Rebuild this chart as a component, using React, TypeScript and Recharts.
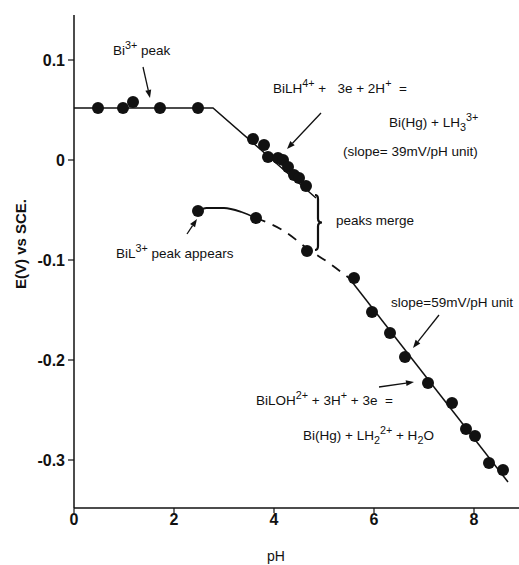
import React from 'react';
import { ComposedChart, Line, Scatter, XAxis, YAxis, ReferenceDot, ReferenceLine } from 'recharts';

const FONT = '"Liberation Sans", Arial, sans-serif';
const INK = '#111';

// measured points (pH, E vs SCE in volts)
const plateauPH = [0.48, 0.98, 1.18, 1.72, 2.48];
const plateauE = [0.052, 0.052, 0.058, 0.052, 0.052];
const slope39PH = [3.58, 3.8, 3.88, 4.08, 4.18, 4.28, 4.4, 4.5, 4.64];
const slope39E = [0.021, 0.015, 0.003, 0.002, 0.0, -0.007, -0.015, -0.018, -0.026];
const bilPH = [2.48, 3.64, 4.66];
const bilE = [-0.051, -0.058, -0.091];
const slope59PH = [5.6, 5.96, 6.32, 6.62, 7.08, 7.56, 7.84, 8.02, 8.3, 8.58];
const slope59E = [-0.118, -0.152, -0.173, -0.197, -0.223, -0.243, -0.269, -0.276, -0.303, -0.31];

// hand-drawn curves through the points
const upperFitPH = [0, 2.78, 4.84];
const upperFitE = [0.052, 0.052, -0.038];
const bilCurvePH = [2.48, 2.65, 3.0, 3.35, 3.64];
const bilCurveE = [-0.051, -0.048, -0.048, -0.052, -0.058];
const mergePH = [3.64, 4.2, 4.68, 5.1, 5.5];
const mergeE = [-0.058, -0.071, -0.089, -0.103, -0.118];
const lowerFitPH = [5.5, 8.68];
const lowerFitE = [-0.118, -0.322];

const xTicks = [0, 2, 4, 6, 8];
const yTicks = [-0.3, -0.2, -0.1, 0, 0.1];

const zip = (xs: number[], ys: number[]) => xs.map((x, i) => ({ x, y: ys[i] }));

const points = [
  ...zip(plateauPH, plateauE),
  ...zip(slope39PH, slope39E),
  ...zip(bilPH, bilE),
  ...zip(slope59PH, slope59E),
];

type Part = { t: string; sup?: boolean; sub?: boolean };

function Rich({ x, y, parts, size = 13.5 }: { x: number; y: number; parts: Part[]; size?: number }) {
  let shift = 0;
  return (
    <text x={x} y={y} fontSize={size} fill={INK} fontFamily={FONT} style={{ whiteSpace: 'pre' }}>
      {parts.map((p, i) => {
        const target = p.sup ? -size * 0.45 : p.sub ? size * 0.3 : 0;
        const dy = target - shift;
        shift = target;
        return (
          <tspan key={i} dy={dy} fontSize={p.sup || p.sub ? size * 0.8 : size}>
            {p.t}
          </tspan>
        );
      })}
    </text>
  );
}

const Arrow = (p: any) => {
  const { x1, y1, x2, y2 } = p;
  const a = Math.atan2(y2 - y1, x2 - x1);
  const L = 8;
  const W = 3;
  const bx = x2 - L * Math.cos(a);
  const by = y2 - L * Math.sin(a);
  const pts = `${x2},${y2} ${bx - W * Math.sin(a)},${by + W * Math.cos(a)} ${bx + W * Math.sin(a)},${by - W * Math.cos(a)}`;
  return (
    <g>
      <line x1={x1} y1={y1} x2={bx} y2={by} stroke={INK} strokeWidth={1.3} />
      <polygon points={pts} fill={INK} />
    </g>
  );
};

const Brace = (p: any) => {
  const x = p.x1;
  const ya = Math.min(p.y1, p.y2);
  const yb = Math.max(p.y1, p.y2);
  const ym = (ya + yb) / 2;
  const d = `M${x - 3},${ya} Q${x},${ya} ${x},${ya + 4} L${x},${ym - 4} Q${x},${ym} ${x + 4},${ym} Q${x},${ym} ${x},${ym + 4} L${x},${yb - 4} Q${x},${yb} ${x - 3},${yb}`;
  return <path d={d} fill="none" stroke={INK} strokeWidth={2.2} />;
};

const note = (key: string, x: number, y: number, parts: Part[]) => (
  <ReferenceDot
    key={key}
    x={x}
    y={y}
    r={0}
    shape={(p: any) => <Rich x={p.cx} y={p.cy} parts={parts} />}
  />
);

const arrow = (key: string, from: [number, number], to: [number, number]) => (
  <ReferenceLine
    key={key}
    segment={[{ x: from[0], y: from[1] }, { x: to[0], y: to[1] }]}
    shape={Arrow}
  />
);

export default function App() {
  const tickStyle = { fontSize: 16, fontWeight: 'bold', fill: INK, fontFamily: FONT };

  return (
    <div style={{ position: 'absolute', left: 0, top: 0, width: 519, height: 565, background: '#fff' }}>
      <ComposedChart width={519} height={565} margin={{ top: 15, right: 0, bottom: 27, left: 14 }}>
        <XAxis
          dataKey="x"
          type="number"
          domain={[0, 8.9]}
          ticks={xTicks}
          allowDataOverflow
          height={30}
          tickSize={5}
          tickMargin={1}
          axisLine={{ stroke: INK, strokeWidth: 1.5 }}
          tickLine={{ stroke: INK, strokeWidth: 1.2 }}
          tick={tickStyle}
        />
        <YAxis
          type="number"
          domain={[-0.348, 0.145]}
          ticks={yTicks}
          allowDataOverflow
          width={60}
          tickSize={6}
          tickMargin={3}
          axisLine={{ stroke: INK, strokeWidth: 1.5 }}
          tickLine={{ stroke: INK, strokeWidth: 1.2 }}
          tick={tickStyle}
        />

        <Line data={zip(upperFitPH, upperFitE)} dataKey="y" type="linear" dot={false} stroke={INK} strokeWidth={1.5} isAnimationActive={false} />
        <Line data={zip(bilCurvePH, bilCurveE)} dataKey="y" type="monotone" dot={false} stroke={INK} strokeWidth={1.8} isAnimationActive={false} />
        <Line data={zip(mergePH, mergeE)} dataKey="y" type="monotone" dot={false} stroke={INK} strokeWidth={1.8} strokeDasharray="10 8" isAnimationActive={false} />
        <Line data={zip(lowerFitPH, lowerFitE)} dataKey="y" type="linear" dot={false} stroke={INK} strokeWidth={1.5} isAnimationActive={false} />

        <Scatter
          data={points}
          dataKey="y"
          isAnimationActive={false}
          shape={(p: any) => <circle cx={p.cx} cy={p.cy} r={6} fill={INK} />}
        />

        <ReferenceLine segment={[{ x: 4.88, y: -0.035 }, { x: 4.88, y: -0.09 }]} shape={Brace} />

        {arrow('a1', [1.38, 0.093], [1.52, 0.062])}
        {arrow('a2', [4.94, 0.047], [4.26, 0.011])}
        {arrow('a3', [2.26, -0.074], [2.46, -0.059])}
        {arrow('a4', [7.3, -0.155], [6.78, -0.188])}
        {arrow('a5', [6.1, -0.227], [6.8, -0.222])}

        {note('n1', 0.78, 0.105, [{ t: 'Bi' }, { t: '3+', sup: true }, { t: ' peak' }])}
        {note('n2', 3.98, 0.067, [{ t: 'BiLH' }, { t: '4+', sup: true }, { t: ' +   3e + 2H' }, { t: '+', sup: true }, { t: '  =' }])}
        {note('n3', 6.3, 0.033, [{ t: 'Bi(Hg) + LH' }, { t: '3', sub: true }, { t: '3+', sup: true }])}
        {note('n4', 5.38, 0.004, [{ t: '(slope= 39mV/pH unit)' }])}
        {note('n5', 5.24, -0.065, [{ t: 'peaks merge' }])}
        {note('n6', 0.84, -0.098, [{ t: 'BiL' }, { t: '3+', sup: true }, { t: ' peak appears' }])}
        {note('n7', 6.34, -0.147, [{ t: 'slope=59mV/pH unit' }])}
        {note('n8', 3.64, -0.245, [{ t: 'BiLOH' }, { t: '2+', sup: true }, { t: ' + 3H' }, { t: '+', sup: true }, { t: ' + 3e  =' }])}
        {note('n9', 4.58, -0.28, [{ t: 'Bi(Hg) + LH' }, { t: '2', sub: true }, { t: '2+', sup: true }, { t: ' + H' }, { t: '2', sub: true }, { t: 'O' }])}
      </ComposedChart>

      <svg width={519} height={565} style={{ position: 'absolute', left: 0, top: 0, pointerEvents: 'none' }}>
        <text
          x={20}
          y={244}
          transform="rotate(-90 20 244)"
          textAnchor="middle"
          dominantBaseline="central"
          fontSize={15}
          fontWeight="bold"
          fontFamily={FONT}
          fill={INK}
        >
          E(V) vs SCE.
        </text>
        <text x={276} y={561} textAnchor="middle" fontSize={14} fontFamily={FONT} fill={INK}>
          pH
        </text>
      </svg>
    </div>
  );
}
